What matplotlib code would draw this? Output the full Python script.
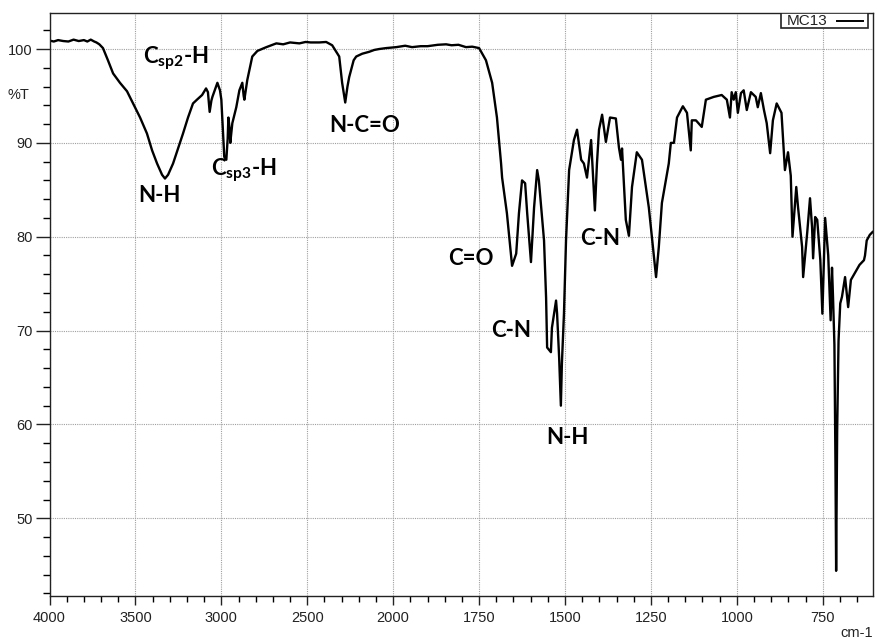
import numpy as np
import matplotlib
matplotlib.use("Agg")
import matplotlib.pyplot as plt
from matplotlib.ticker import FixedLocator, FixedFormatter
from matplotlib.patches import Rectangle
from matplotlib.lines import Line2D

plt.rcParams['font.family'] = ['Liberation Sans', 'DejaVu Sans']
plt.rcParams['mathtext.fontset'] = 'custom'
plt.rcParams['mathtext.rm'] = 'Lato:bold'
plt.rcParams['mathtext.it'] = 'Lato:bold'
plt.rcParams['mathtext.bf'] = 'Lato:bold'

# FTIR spectrum of sample MC13: wavenumber (cm-1) and transmittance (%T)
sample_name = "MC13"
wavenumber = [
    4000, 3975, 3950, 3920, 3890, 3860, 3830, 3800, 3780, 3760, 3740, 3727,
    3710, 3689, 3660, 3630, 3590, 3549, 3514, 3473, 3433, 3403, 3374,
    3345, 3328, 3310, 3281, 3252, 3223, 3194, 3165, 3142, 3112, 3089,
    3078, 3068, 3058, 3052, 3023, 3008, 3000, 2990,
    2983, 2971, 2963, 2959, 2952, 2948, 2936, 2913, 2895, 2878, 2870,
    2866, 2849, 2820, 2790, 2738, 2680, 2640, 2600, 2546, 2510, 2480, 2430,
    2390, 2355, 2314, 2297, 2279, 2266, 2256, 2230, 2215, 2180, 2140, 2110,
    2081, 2040, 1991, 1965, 1945, 1920, 1900, 1870, 1846, 1830, 1810, 1788,
    1770, 1750, 1730, 1712, 1698, 1686, 1683, 1669,
    1654, 1642, 1634, 1625, 1616, 1610, 1599, 1590, 1581, 1576, 1561,
    1555, 1552, 1541, 1538, 1526, 1523, 1517, 1512, 1509, 1503, 1497,
    1488, 1474, 1465, 1453, 1445, 1436, 1424, 1421, 1413, 1407, 1401,
    1392, 1381, 1369, 1352, 1343, 1337, 1334, 1323, 1314, 1305, 1291,
    1276, 1256, 1235, 1227, 1218, 1198, 1192, 1183, 1174, 1157, 1145,
    1134, 1131, 1119, 1102, 1090, 1067, 1044, 1029, 1020, 1015, 1009,
    1003, 997, 988, 980, 971, 959, 945, 939, 930, 921, 913,
    903, 895, 884, 870, 860, 851, 843, 838, 827, 822, 810,
    807, 795, 787, 781, 778, 772, 766, 757, 751, 743, 734,
    727, 723, 720, 716, 713, 711, 708, 704, 699, 694, 685,
    676, 668, 643, 630, 627, 622, 613, 605,
]
transmittance = [
    100.9, 100.8, 100.95, 100.85, 100.8, 101.0, 100.85, 100.95, 100.8, 101.0, 100.8, 100.7,
    100.5, 100.1, 98.8, 97.4, 96.4, 95.5, 94.2, 92.7, 91.0, 89.2, 87.8,
    86.6, 86.2, 86.6, 87.8, 89.4, 91.0, 92.7, 94.2, 94.6, 95.1, 95.8,
    95.4, 93.3, 94.5, 94.9, 96.4, 95.6, 94.6, 91.0,
    88.5, 88.2, 90.5, 92.7, 91.5, 90.0, 92.1, 93.8, 95.6, 96.4, 95.0,
    94.6, 96.7, 99.2, 99.8, 100.2, 100.6, 100.5, 100.7, 100.6, 100.75, 100.7, 100.7,
    100.75, 100.4, 99.2, 96.4, 94.3, 96.0, 97.0, 98.8, 99.2, 99.5, 99.7, 99.9,
    100.0, 100.1, 100.2, 100.35, 100.2, 100.3, 100.3, 100.45, 100.5, 100.4, 100.45, 100.2,
    100.25, 100.1, 98.8, 96.4, 92.7, 87.8, 86.3, 82.5,
    76.9, 78.2, 82.5, 86.0, 85.7, 82.5, 77.3, 83.1, 87.1, 86.0, 79.6,
    73.5, 68.2, 67.7, 70.3, 73.2, 71.8, 67.1, 62.0, 66.5, 71.8, 79.6,
    87.1, 90.3, 91.4, 88.2, 87.8, 86.3, 90.3, 88.2, 82.8, 87.8, 91.4,
    93.0, 90.1, 92.7, 92.6, 89.5, 88.2, 89.4, 81.8, 80.1, 85.3, 89.0,
    88.2, 83.1, 75.7, 78.9, 83.6, 87.8, 90.0, 90.0, 92.7, 93.9, 93.2,
    89.2, 92.4, 92.4, 91.7, 94.6, 94.9, 95.1, 94.6, 92.7, 95.4, 94.6,
    95.4, 93.2, 95.3, 95.6, 93.5, 95.4, 94.9, 93.8, 95.3, 93.5, 92.1,
    88.9, 92.4, 94.2, 93.2, 87.1, 89.0, 86.5, 80.0, 85.3, 83.2, 78.9,
    75.7, 80.5, 84.1, 81.0, 77.7, 82.1, 81.8, 77.5, 71.8, 82.0, 78.0,
    71.1, 76.7, 73.5, 68.5, 56.0, 44.4, 59.3, 68.9, 72.9, 73.6, 75.7,
    72.5, 75.4, 77.0, 77.5, 78.0, 79.6, 80.2, 80.5,
]

# Band assignments: (label, wavenumber, %T)
band_labels = ["C$_{\\mathrm{sp2}}$-H", "N-H", "C$_{\\mathrm{sp3}}$-H", "N-C=O",
               "C=O", "C-N", "C-N", "N-H"]
band_x = [3262, 3360, 2867, 2168, 1773, 1657, 1398, 1494]
band_y = [99.0, 84.4, 87.1, 91.9, 77.7, 70.0, 79.8, 58.6]

x_major = [4000, 3500, 3000, 2500, 2000, 1750, 1500, 1250, 1000, 750]
y_major = [50, 60, 70, 80, 90, 100]


def fwd(x):
    # axis is compressed 2x above 2000 cm-1
    x = np.asarray(x, dtype=float)
    return np.where(x > 2000, 2000 + (x - 2000) / 2.0, x)


def inv(u):
    u = np.asarray(u, dtype=float)
    return np.where(u > 2000, 2000 + (u - 2000) * 2.0, u)


fig = plt.figure(figsize=(8.78, 6.41), dpi=100)
ax = fig.add_axes([0.0564, 0.0702, 0.9374, 0.9100])
ax.set_xscale('function', functions=(fwd, inv))

spectrum, = ax.plot(wavenumber, transmittance, color='black', lw=1.7,
                    label=sample_name)

ax.set_xlim(4000, 605)
ax.set_ylim(41.72, 103.87)

x_minor = [v for v in range(3900, 2000, -100) if v not in x_major] + \
          [v for v in range(1950, 600, -50) if v not in x_major]
ax.xaxis.set_major_locator(FixedLocator(x_major))
ax.xaxis.set_major_formatter(FixedFormatter([str(v) for v in x_major]))
ax.xaxis.set_minor_locator(FixedLocator(x_minor))
ax.yaxis.set_major_locator(FixedLocator(y_major))
ax.yaxis.set_minor_locator(FixedLocator(list(range(42, 104, 2))))

ax.tick_params(axis='x', which='major', length=6.5, width=1.0, labelsize=10.5,
               colors='#222222', pad=4)
ax.tick_params(axis='x', which='minor', length=4.0, width=1.0)
ax.tick_params(axis='y', which='major', length=10, width=1.0, labelsize=10.5,
               colors='#222222', pad=2)
ax.tick_params(axis='y', which='minor', length=5, width=1.0)

ax.grid(True, which='major', color='#a0a0a0', linestyle=(0, (1, 1)), lw=0.8)
for s in ax.spines.values():
    s.set_linewidth(1.0)
    s.set_color('#222222')

for lab, bx, by in zip(band_labels, band_x, band_y):
    ax.text(bx, by, lab, ha='center', va='center', fontsize=16,
            fontweight='bold', family=['Lato', 'DejaVu Sans'])

fig.text(8 / 878, 1 - 95 / 641, '%T', ha='left', va='center', fontsize=10.5,
         color='#222222')
fig.text(873 / 878, 1 - 633 / 641, 'cm-1', ha='right', va='center',
         fontsize=10.5, color='#222222')

# Series key box in the top-right corner (name, then line sample)
key_box = Rectangle((0.8888, 0.9738), 0.1060, 0.0262, transform=ax.transAxes,
                    facecolor='white', edgecolor='#222222', lw=1.2, zorder=5)
ax.add_patch(key_box)
ax.text(0.8961, 0.9866, spectrum.get_label(), transform=ax.transAxes,
        ha='left', va='center', fontsize=11, color='#222222', zorder=6)
ax.add_line(Line2D([0.9569, 0.9885], [0.9866, 0.9866], transform=ax.transAxes,
                   color=spectrum.get_color(), lw=1.4, zorder=6))

fig.savefig('out.png', dpi=100)
